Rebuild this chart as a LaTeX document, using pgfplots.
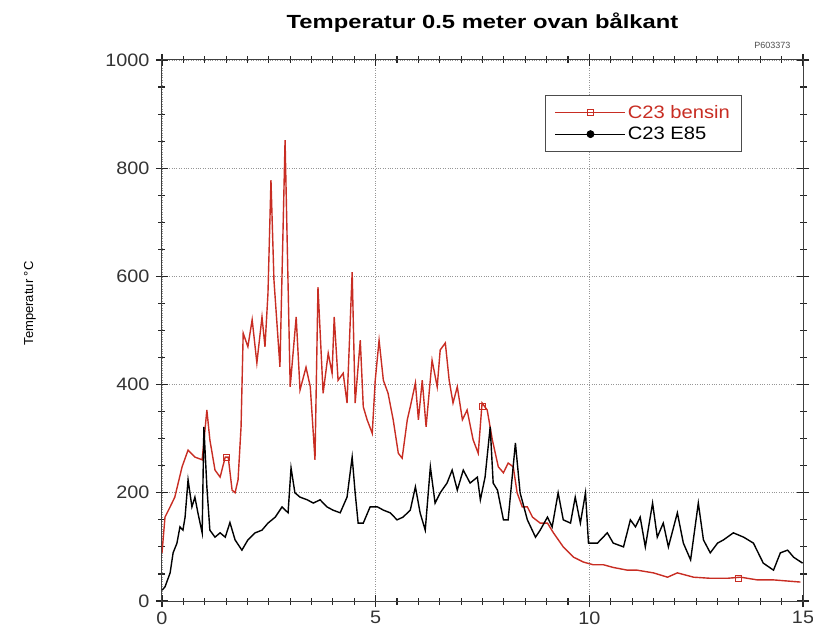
\documentclass[border=0pt]{standalone}
\usepackage{pgfplots}
\pgfplotsset{compat=1.18}
\usepackage{fontspec}
\setmainfont{Liberation Sans}
\definecolor{bensinred}{RGB}{200,45,35}
\definecolor{gridgray}{RGB}{150,150,150}

% temperatur, C23 bensin
\pgfplotstableread{
t T
0.00 89
0.07 155
0.19 174
0.30 192
0.47 248
0.61 279
0.77 266
0.94 261
1.05 353
1.12 298
1.24 242
1.36 229
1.48 266
1.55 266
1.64 205
1.71 200
1.78 224
1.85 322
1.90 495
2.01 470
2.11 520
2.22 440
2.34 525
2.41 470
2.48 569
2.55 778
2.62 593
2.76 433
2.88 852
3.00 396
3.14 525
3.23 390
3.37 432
3.47 396
3.58 261
3.65 580
3.77 384
3.89 458
3.98 421
4.03 525
4.12 408
4.24 421
4.33 366
4.45 608
4.52 366
4.64 482
4.71 359
4.80 335
4.92 310
4.99 408
5.08 482
5.18 408
5.29 384
5.41 335
5.53 273
5.62 264
5.74 335
5.81 359
5.93 403
6.00 335
6.09 408
6.18 322
6.32 445
6.44 396
6.51 464
6.63 477
6.72 408
6.81 366
6.91 396
7.03 335
7.14 353
7.28 298
7.40 273
7.49 366
7.61 353
7.73 298
7.87 248
7.99 237
8.10 255
8.22 248
8.31 200
8.43 174
8.55 174
8.67 155
8.85 144
9.02 144
9.16 126
9.39 100
9.63 81
9.86 72
10.09 67
10.33 67
10.56 62
10.89 57
11.12 57
11.50 52
11.83 44
12.06 52
12.44 44
12.83 42
13.23 42
13.54 44
13.93 39
14.31 39
14.94 35
}\bensin

% temperatur, C23 E85
\pgfplotstableread{
t T
0.00 20
0.07 26
0.19 52
0.26 89
0.35 107
0.42 137
0.49 131
0.54 155
0.61 224
0.70 174
0.77 192
0.84 163
0.94 126
0.98 322
1.05 211
1.12 131
1.24 118
1.36 126
1.48 118
1.59 145
1.71 113
1.87 94
2.01 113
2.18 126
2.34 131
2.48 144
2.65 155
2.81 174
2.95 163
3.02 246
3.11 200
3.23 192
3.40 187
3.54 181
3.70 187
3.86 174
4.00 168
4.17 163
4.33 192
4.45 266
4.52 200
4.59 144
4.71 144
4.87 174
5.04 174
5.18 168
5.34 163
5.50 150
5.64 155
5.81 168
5.93 211
6.04 163
6.16 131
6.28 248
6.39 181
6.51 200
6.67 218
6.79 242
6.91 205
7.05 242
7.21 218
7.38 229
7.45 187
7.56 229
7.68 322
7.75 218
7.85 205
7.99 150
8.10 150
8.27 292
8.38 200
8.55 150
8.74 118
8.85 131
9.02 155
9.13 137
9.27 200
9.39 150
9.56 144
9.67 192
9.79 144
9.91 200
9.98 107
10.19 107
10.42 126
10.56 107
10.80 100
10.96 150
11.08 137
11.19 155
11.31 100
11.48 181
11.59 118
11.73 144
11.85 100
12.06 163
12.20 107
12.37 76
12.55 181
12.67 113
12.83 89
13.00 107
13.14 113
13.37 126
13.61 118
13.84 107
14.07 70
14.31 57
14.47 89
14.64 94
14.78 81
14.99 70
}\etanol

\begin{document}
\begin{tikzpicture}
\begin{axis}[
  at={(0pt,0pt)}, anchor=south west,
  scale only axis,
  width=641pt, height=541pt,
  xmin=0, xmax=15, ymin=0, ymax=1000,
  xtick={0,5,10,15}, ytick={0,200,400,600,800,1000},
  minor xtick={0,0.5,...,15}, minor ytick={0,50,...,1000},
  tick align=center,
  major tick length=12pt, minor tick length=7pt,
  tick style={black!85, line width=1.1pt},
  axis line style={black!75, line width=1pt},
  grid=major,
  major grid style={gridgray, dotted, line width=0.9pt},
  minor grid style={draw=none},
  ticklabel style={font=\fontsize{18}{20}\selectfont, text=black!80},
  xticklabel={\scalebox{1.1}[1]{\pgfmathprintnumber{\tick}}},
  yticklabel={\scalebox{1.1}[1]{\pgfmathprintnumber{\tick}}},
  /pgf/number format/assume math mode=true,
  /pgf/number format/1000 sep={},
  xticklabel style={yshift=-1pt},
  yticklabel style={xshift=-3pt},
  title={\fontsize{19}{22}\selectfont\bfseries\scalebox{1.25}[1]{Temperatur 0.5 meter ovan bålkant}},
  title style={at={(0.5,1)}, anchor=south, yshift=18pt},
  ylabel={\fontsize{13}{15}\selectfont Temperatur °C},
  ylabel style={at={(-0.206,0.55)}, anchor=center},
  legend style={at={(0.597,0.935)}, anchor=north west, draw=black!70,
    line width=0.8pt, font=\fontsize{18}{20}\selectfont,
    inner xsep=10pt, inner ysep=8pt, row sep=3pt},
  legend cell align=left,
  legend image code/.code={
    \draw[#1] (0pt,0pt) -- (70pt,0pt);
    \draw[#1, only marks] plot coordinates {(35pt,0pt)};
  },
]
\addplot[bensinred, line width=1.4pt, forget plot] table[x=t, y=T] {\bensin};
\addplot[black, line width=1.4pt, forget plot] table[x=t, y=T] {\etanol};
\addplot[bensinred, only marks, mark=square, mark size=3pt, mark options={line width=1pt}, forget plot]
  coordinates {(1.52,266) (7.50,360) (13.50,42)};
\addlegendimage{bensinred, line width=0.8pt, mark=square, mark size=3pt}
\addlegendentry{\textcolor{bensinred}{\scalebox{1.12}[1]{C23 bensin}}}
\addlegendimage{black, line width=0.8pt, mark=*, mark size=3.5pt}
\addlegendentry{\scalebox{1.12}[1]{C23 E85}}
\end{axis}
\node[font=\fontsize{9}{10}\selectfont, text=black!70, anchor=south east] at (632pt,549pt) {P603373};
\pgfresetboundingbox
\path[use as bounding box] (-162pt,-33pt) rectangle (651pt,601pt);
\end{tikzpicture}
\end{document}
